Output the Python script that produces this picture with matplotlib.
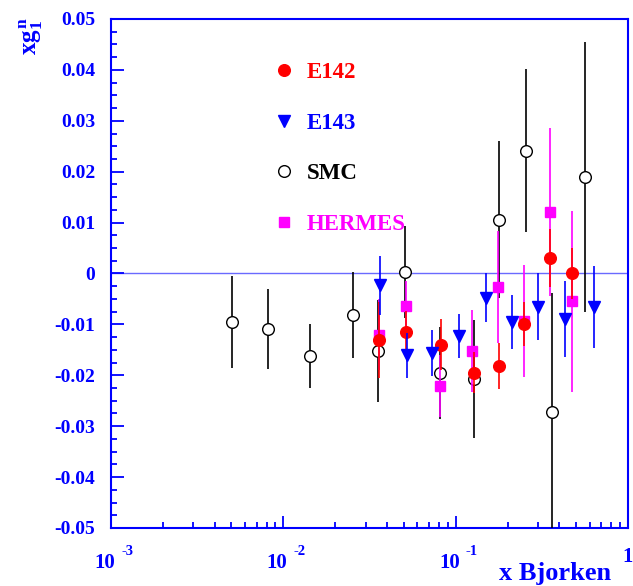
import numpy as np
import matplotlib
matplotlib.use("Agg")
import matplotlib.pyplot as plt
from matplotlib.lines import Line2D
from matplotlib.transforms import offset_copy
from matplotlib.ticker import FixedLocator, FuncFormatter, LogLocator, NullFormatter

# data (x Bjorken, x*g1n, error)
e142_x = [0.036, 0.0512, 0.0822, 0.127, 0.178, 0.251, 0.351, 0.475]
e142_y = [-0.0131, -0.0114, -0.0140, -0.0195, -0.0182, -0.0100, 0.0031, 0.0000]
e142_e = [0.0075, 0.0040, 0.0050, 0.0040, 0.0045, 0.0043, 0.0057, 0.0050]

e143_x = [0.0366, 0.052, 0.0733, 0.105, 0.150, 0.212, 0.302, 0.430, 0.635]
e143_y = [-0.0023, -0.0161, -0.0157, -0.0123, -0.0048, -0.0095, -0.0065, -0.0090, -0.0066]
e143_e = [0.0058, 0.0045, 0.0045, 0.0044, 0.0048, 0.0053, 0.0065, 0.0075, 0.0080]

smc_x = [0.00503, 0.00815, 0.0143, 0.0254, 0.0355, 0.0508, 0.0813, 0.128, 0.179, 0.257, 0.361, 0.564]
smc_y = [-0.0095, -0.0109, -0.0162, -0.0082, -0.0152, 0.0003, -0.0195, -0.0208, 0.0106, 0.0241, -0.0273, 0.0190]
smc_e = [0.0090, 0.0079, 0.0062, 0.0085, 0.0100, 0.0090, 0.0090, 0.0116, 0.0155, 0.0160, 0.0235, 0.0265]

hermes_x = [0.036, 0.0512, 0.081, 0.125, 0.177, 0.250, 0.351, 0.475]
hermes_y = [-0.0120, -0.0064, -0.0221, -0.0152, -0.0026, -0.0093, 0.0120, -0.0055]
hermes_e = [0.0070, 0.0050, 0.0060, 0.0080, 0.0110, 0.0110, 0.0165, 0.0177]

labels = ["E142", "E143", "SMC", "HERMES"]

# x tick labels: mantissa + exponent
xt = [1e-3, 1e-2, 1e-1]
xt_exp = ["-3", "-2", "-1"]

plt.rcParams["font.family"] = "Liberation Serif"
plt.rcParams["font.weight"] = "bold"
plt.rcParams["mathtext.fontset"] = "custom"
plt.rcParams["mathtext.rm"] = "Liberation Serif:bold"
plt.rcParams["mathtext.bf"] = "Liberation Serif:bold"
plt.rcParams["mathtext.it"] = "Liberation Serif:bold"

axcol = "#0000ff"

fig = plt.figure(figsize=(6.33, 5.86), dpi=100)
ax = fig.add_axes([0.1754, 0.099, 0.8166, 0.8686])

ax.axhline(0, color="#6a6aff", lw=1.0, zorder=1)

ax.errorbar(smc_x, smc_y, yerr=smc_e, fmt="o", ms=8.4, mfc="white", mec="black",
            mew=1.0, ecolor="black", elinewidth=1.2, capsize=0, zorder=3)
ax.errorbar(hermes_x, hermes_y, yerr=hermes_e, fmt="s", ms=7.5, mfc="#ff00ff", mec="#ff00ff",
            ecolor="#ff00ff", elinewidth=1.2, capsize=0, zorder=4)
ax.errorbar(e142_x, e142_y, yerr=e142_e, fmt="o", ms=8.4, mfc="#ff0000", mec="#ff0000",
            ecolor="#ff0000", elinewidth=1.2, capsize=0, zorder=5)
ax.errorbar(e143_x, e143_y, yerr=e143_e, fmt="v", ms=8.4, mfc="#0000ff", mec="#0000ff",
            ecolor="#0000ff", elinewidth=1.2, capsize=0, zorder=6)

ax.set_xscale("log")
ax.set_xlim(1e-3, 1)
ax.set_ylim(-0.05, 0.05)

ax.yaxis.set_major_locator(FixedLocator(np.linspace(-0.05, 0.05, 11)))
ax.yaxis.set_minor_locator(FixedLocator(np.linspace(-0.05, 0.05, 41)))
ax.yaxis.set_major_formatter(FuncFormatter(lambda v, p: "0" if abs(v) < 1e-9 else f"{v:.2f}"))

ax.set_xticks([1e-3, 1e-2, 1e-1, 1])
ax.set_xticklabels([])
ax.xaxis.set_minor_locator(LogLocator(base=10, subs=np.arange(2, 10)))
ax.xaxis.set_minor_formatter(NullFormatter())

for s in ax.spines.values():
    s.set_color(axcol)
    s.set_linewidth(1.5)

ax.tick_params(axis="both", which="both", direction="in", colors=axcol, width=1.3,
               top=False, right=False)
ax.tick_params(axis="both", which="major", length=9)
ax.tick_params(axis="both", which="minor", length=4.5)
ax.tick_params(axis="y", which="major", labelsize=14, pad=11.5)
for t in ax.get_yticklabels():
    t.set_color(axcol)
    t.set_fontweight("bold")

# decade labels drawn as "10" with a raised exponent
xtr = ax.get_xaxis_transform()
for v, e in zip(xt, xt_exp):
    ax.text(v, 0, "10", transform=offset_copy(xtr, fig=fig, x=4, y=-40, units="dots"),
            ha="right", va="baseline", color=axcol, fontsize=15, fontweight="bold", clip_on=False)
    ax.text(v, 0, e, transform=offset_copy(xtr, fig=fig, x=10, y=-27, units="dots"),
            ha="left", va="baseline", color=axcol, fontsize=10.5, fontweight="bold", clip_on=False)
ax.text(1, 0, "1", transform=offset_copy(xtr, fig=fig, x=0, y=-34, units="dots"),
        ha="center", va="baseline", color=axcol, fontsize=15, fontweight="bold", clip_on=False)

handles = [
    Line2D([], [], ls="none", marker="o", ms=8.4, mfc="#ff0000", mec="#ff0000"),
    Line2D([], [], ls="none", marker="v", ms=8.4, mfc="#0000ff", mec="#0000ff"),
    Line2D([], [], ls="none", marker="o", ms=8.4, mfc="white", mec="black"),
    Line2D([], [], ls="none", marker="s", ms=7.5, mfc="#ff00ff", mec="#ff00ff"),
]
leg = ax.legend(handles, labels, loc="upper left", bbox_to_anchor=(0.312, 0.916),
                frameon=False, borderpad=0, handlelength=1.0, handletextpad=0.5,
                labelspacing=1.3, prop={"family": "Liberation Serif", "weight": "bold", "size": 16.5},
                labelcolor=["#ff0000", "#0000ff", "black", "#ff00ff"], borderaxespad=0)

fig.text(0.049, 0.938, r"$xg_1^n$", rotation=90, color=axcol, fontsize=18,
         ha="center", va="center")
fig.text(0.877, 0.022, "x Bjorken", color=axcol, fontsize=19, fontweight="bold",
         ha="center", va="center")

fig.savefig("out.png", dpi=100)
